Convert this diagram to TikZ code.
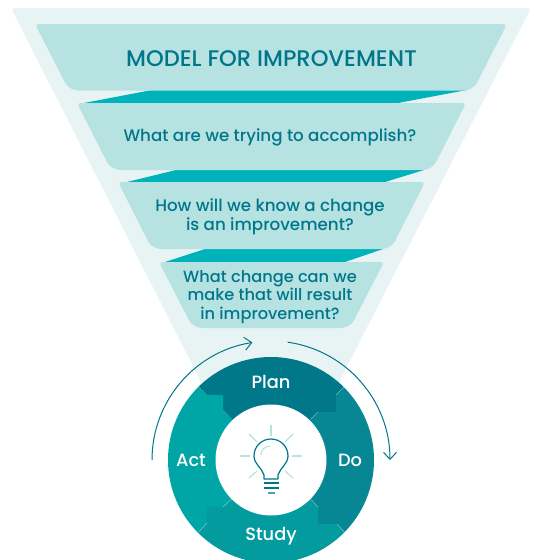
\documentclass[tikz,border=0pt]{standalone}
\usepackage{fontspec}
\setmainfont{Poppins}[UprightFont=* Medium]
\usepackage{xcolor}
\usetikzlibrary{
  arrows.meta
}
\definecolor{funnelpale}{HTML}{E8F4F4}
\definecolor{bandpale}{HTML}{B7E2E2}
\definecolor{bandgap}{HTML}{00B2B9}
\definecolor{inktext}{HTML}{00768A}
\definecolor{planteal}{HTML}{00788A}
\definecolor{doteal}{HTML}{078694}
\definecolor{studyteal}{HTML}{049B9E}
\definecolor{actteal}{HTML}{00A5A5}

\begin{document}
\begin{tikzpicture}[
    x=1pt, y=-1pt,
    bandtext/.style = {align=center, text=inktext, inner sep=0pt,
      font=\fontsize{16.7}{19}\selectfont},
    cycletext/.style = {text=white, inner sep=0pt,
      font=\fontsize{17.8}{20}\selectfont},
    cyclearrow/.style = {draw=inktext, line width=1pt,
      -{Straight Barb[length=7pt,width=13pt,line width=1pt]}},
    bulbline/.style = {draw=inktext, line width=1.2pt},
    bulbray/.style = {draw=bandpale, line width=1.1pt},
    seamline/.style = {draw=white, opacity=0.35, line width=0.5pt}]
  \useasboundingbox (0,0) rectangle (534,560);
  \coordinate (hub) at (271,460);

  % funnel and its bands
  \fill[funnelpale, rounded corners=4pt]
    (11,8) -- (531,8) -- (340,380) -- (331,405) -- (209,405) -- (199,378) -- cycle;
  \fill[bandgap] (152,90) -- (467,90) -- (398,103) -- (84,103) -- cycle;
  \fill[bandgap] (176,170) -- (424,170) -- (385,182) -- (127,182) -- cycle;
  \fill[bandgap] (205,249) -- (383,249) -- (345,262) -- (165,262) -- cycle;
  \foreach \ya/\yb/\xa/\xb in {24/90.5/35/507, 103/170/77/466, 182/249/118/425, 262/328/159/384}
    \fill[bandpale, rounded corners=3.5pt]
      (\xa,\ya) -- (\xb,\ya) [rounded corners=9pt] -- (\xb-34,\yb) -- (\xa+34,\yb)
      [rounded corners=3.5pt] -- cycle;

  \node[bandtext, font=\fontsize{22.6}{26}\selectfont] (model) at (271.5,59) {MODEL FOR IMPROVEMENT};
  \node[bandtext] (aim) at (270,137) {What are we trying to accomplish?};
  \node[bandtext] (measure) at (270,216.5) {How will we know a change\\is an improvement?};
  \node[bandtext, font=\fontsize{16.2}{18.6}\selectfont] (change) at (270,297) {What change can we\\make that will result\\in improvement?};

  % the cycle, each part hooked into the next
  \coordinate (planact) at (207,395);
  \coordinate (plando) at (336,395);
  \coordinate (dostudy) at (337,524);
  \coordinate (studyact) at (207,523);
  \begin{scope}
    \clip (hub) circle (103);
    \fill[planteal] (150,339) -- (planact) -- (223,395) -- (223,410) -- (hub)
      -- (318,412) -- (336,412) -- (plando) -- (392,339) -- cycle;
    \fill[doteal] (392,339) -- (plando) -- (336,412) -- (318,412) -- (hub)
      -- (318,507) -- (318,524) -- (dostudy) -- (392,581) -- cycle;
    \fill[studyteal] (392,581) -- (dostudy) -- (318,524) -- (318,507) -- (hub)
      -- (223,507) -- (207,507) -- (studyact) -- (150,581) -- cycle;
    \fill[actteal] (150,581) -- (studyact) -- (207,507) -- (223,507) -- (hub)
      -- (223,410) -- (223,395) -- (planact) -- (150,339) -- cycle;
    \draw[seamline] (studyact) -- (199,532);
    \draw[seamline] (223,507) -- (232,499);
    \draw[seamline] (plando) -- (344,387);
    \draw[seamline] (318,412) -- (311,419);
    \draw[seamline] (dostudy) -- (344,532);
    \draw[seamline] (318,507) -- (311,499);
  \end{scope}
  \fill[white] (hub) circle (55.5);

  \node[cycletext] (plan) at (271,382) {Plan};
  \node[cycletext] (do) at (350,460) {Do};
  \node[cycletext] (study) at (271,536) {Study};
  \node[cycletext] (act) at (191,460) {Act};

  \draw[cyclearrow] (hub) ++(180:119) arc (180:261:119);
  \draw[cyclearrow] (hub) ++(278:119) arc (278:360:119);

  % light bulb
  \draw[bulbline, line join=round] (264,479) -- (264,475)
    .. controls (262,468) and (254,464) .. (254,456)
    .. controls (254,446) and (262,439) .. (271,439)
    .. controls (280,439) and (288,446) .. (288,456)
    .. controls (288,464) and (280,468) .. (278,475)
    -- (278,479) -- cycle;
  \draw[bulbline] (264,483) -- (279,483);
  \draw[bulbline] (264,488) -- (279,488);
  \draw[draw=inktext!70, line width=1.6pt] (268,493) -- (275,493);
  \draw[bulbray] (261,455) .. controls (261,450) and (265,446) .. (270,446);
  \draw[bulbray] (271,425) -- (271,436);
  \draw[bulbray] (249,434) -- (257,442);
  \draw[bulbray] (293,434) -- (285,442);
  \draw[bulbray] (240,456) -- (250,456);
  \draw[bulbray] (292,456) -- (302,456);
  \draw[bulbray] (249,478) -- (257,471);
  \draw[bulbray] (293,478) -- (285,471);
\end{tikzpicture}
\end{document}
